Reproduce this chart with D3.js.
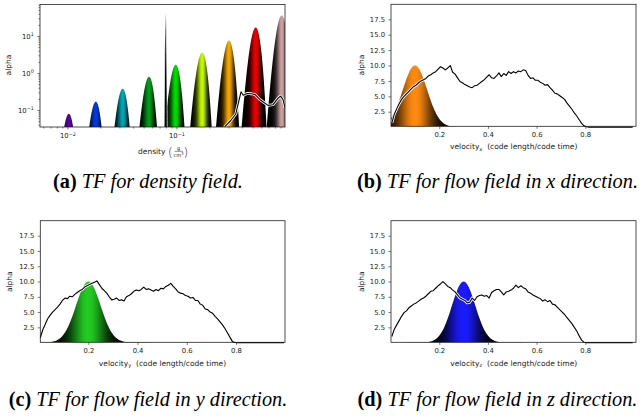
<!DOCTYPE html>
<html>
<head>
<meta charset="utf-8">
<script src="https://cdn.jsdelivr.net/npm/d3@7"></script>
<style>
  body { margin: 0; background: #fff; }
  svg text { font-family: "DejaVu Sans", sans-serif; white-space: pre; }
  .cap { font-family: "Liberation Serif", "Times New Roman", serif; }
</style>
</head>
<body>
<svg id="fig" width="642" height="417"></svg>
<script>
// ---- panel (a): density TF, gaussians on log axes ----
const densCenters = [0.0103, 0.0182, 0.0321, 0.056, 0.0984, 0.172, 0.303, 0.533, 0.924];
const densHeights = [0.079, 0.168, 0.377, 0.79, 1.68, 3.6, 7.6, 17.1, 36];
const densWidths  = [0.00075, 0.00133, 0.00234, 0.0041, 0.0072, 0.0126, 0.0221, 0.0389, 0.0675];
const densColors  = ["#5a009f", "#003bdd", "#00a6b6", "#009c1b", "#00dd00", "#c5fc00", "#f7a800", "#eb0000", "#cba0a0"];
const spikeCenter = 0.0797, spikeHeight = 37.6, spikeWidth = 0.0007;
const densHistX = [0.27, 0.279, 0.315, 0.35, 0.391, 0.41, 0.444, 0.49, 0.526, 0.584, 0.692, 0.769, 0.855, 0.901, 0.95, 0.99];
const densHistY = [0.025, 0.036, 0.052, 0.078, 0.31, 0.25, 0.28, 0.275, 0.26, 0.19, 0.133, 0.139, 0.21, 0.236, 0.19, 0.115];
const densXTicks = [0.01, 0.1];
const densYTicks = [0.1, 1, 10];

// ---- panels (b)-(d): velocity TFs ----
const velBins = d3.range(100).map(i => +(0.005 + i * 0.01).toFixed(3));
const velXHist = [0.7, 2.1, 3.0, 3.8, 4.5, 5.0, 5.4, 5.8, 6.2, 6.6,
  6.8, 7.2, 7.5, 7.7, 7.9, 8.3, 8.5, 8.8, 9.0, 9.4,
  9.8, 9.6, 9.3, 9.6, 10.0, 8.9, 8.6, 8.0, 7.4, 7.2,
  6.9, 6.7, 6.5, 6.4, 6.7, 6.8, 7.1, 7.4, 7.7, 8.1,
  8.5, 8.0, 7.9, 8.3, 8.8, 8.2, 8.7, 8.4, 9.0, 8.7,
  9.0, 8.8, 9.1, 9.0, 9.3, 9.2, 8.4, 7.9, 8.0, 7.6,
  7.6, 7.3, 7.1, 6.8, 6.9, 6.4, 6.0, 5.5, 5.4, 5.1,
  4.8, 4.5, 3.9, 3.4, 2.9, 2.3, 1.8, 1.2, 0.6, 0.2,
  0.05, 0, 0, 0, 0, 0, 0, 0, 0, 0,
  0, 0, 0, 0, 0, 0, 0, 0, 0, 0];
const velYHist = [0.8, 2.1, 3.0, 3.9, 4.5, 5.0, 5.4, 5.8, 6.3, 6.9,
  7.3, 7.2, 7.6, 7.5, 7.9, 8.2, 8.5, 8.7, 9.1, 9.3,
  9.5, 9.7, 9.9, 10.1, 9.5, 8.9, 8.5, 8.1, 7.5, 7.0,
  7.1, 7.3, 6.9, 7.0, 6.8, 7.5, 7.7, 8.0, 8.4, 8.6,
  8.5, 8.7, 9.1, 8.7, 8.8, 8.6, 8.4, 8.7, 8.5, 8.9,
  8.8, 9.2, 9.4, 9.7, 9.2, 8.8, 8.3, 8.1, 8.0, 7.7,
  7.6, 7.3, 7.4, 6.9, 6.9, 6.3, 6.1, 5.5, 5.4, 5.0,
  4.8, 4.3, 3.9, 3.4, 2.9, 2.3, 1.6, 0.9, 0.2, 0.02,
  0, 0, 0, 0, 0, 0, 0, 0, 0, 0,
  0, 0, 0, 0, 0, 0, 0, 0, 0, 0];
const velZHist = [1.0, 2.2, 2.9, 3.6, 4.3, 4.9, 5.2, 5.7, 6.0, 6.3,
  6.5, 6.8, 7.1, 7.3, 7.6, 8.0, 8.4, 8.5, 8.9, 9.3,
  9.6, 10.0, 9.6, 9.2, 9.0, 8.6, 8.3, 7.8, 7.3, 7.1,
  6.9, 6.5, 6.6, 7.3, 6.9, 7.5, 7.7, 7.8, 7.6, 7.7,
  7.3, 8.2, 8.5, 8.7, 8.7, 8.3, 7.8, 8.3, 8.4, 8.6,
  8.9, 9.4, 9.0, 9.3, 9.0, 8.8, 8.3, 8.1, 7.8, 7.6,
  7.4, 7.2, 6.8, 7.0, 6.7, 6.9, 6.3, 6.2, 5.8, 5.4,
  5.0, 4.6, 4.1, 3.6, 3.1, 2.5, 1.9, 1.1, 0.4, 0.05,
  0, 0, 0, 0, 0, 0, 0, 0, 0, 0,
  0, 0, 0, 0, 0, 0, 0, 0, 0, 0];
const velCenters = [0.1, 0.2, 0.3];
const velHeights = [10, 10, 10];
const velWidths  = [0.05, 0.05, 0.048];
const velColors  = ["#ff8a10", "#22cc22", "#1a1aff"];
const velXTicks = [0.2, 0.4, 0.6, 0.8];
const velYTicks = [2.5, 5, 7.5, 10, 12.5, 15, 17.5];

const svg = d3.select("#fig");
const defs = svg.append("defs");
let uid = 0;

function gauss(v, c, h, s) {
  return h * Math.exp(-((v - c) * (v - c)) / (2 * s * s));
}

// filled gaussian, shaded black at the edges and full colour at the peak
function shadedBump(g, x, y, c, h, s, color, floor) {
  const dom = x.domain();
  const x0 = Math.max(dom[0], c - 5 * s), x1 = Math.min(dom[1], c + 5 * s);
  const pts = d3.range(161).map(i => {
    const v = x0 + (x1 - x0) * i / 160;
    return { v: v, a: gauss(v, c, h, s) };
  });
  const id = "grad" + (uid++);
  const p0 = x(x0), p1 = x(x1);
  const grad = defs.append("linearGradient").attr("id", id)
    .attr("gradientUnits", "userSpaceOnUse")
    .attr("x1", p0).attr("x2", p1).attr("y1", 0).attr("y2", 0);
  const mix = d3.interpolateRgb("#000", color);
  pts.filter((p, i) => i % 4 === 0).forEach(p => {
    grad.append("stop")
      .attr("offset", (x(p.v) - p0) / (p1 - p0))
      .attr("stop-color", mix(p.a / h));
  });
  const area = d3.area()
    .x(p => x(p.v))
    .y0(y.range()[0] + 2)
    .y1(p => y(Math.max(p.a, floor)));
  return g.append("path").datum(pts).attr("d", area).attr("fill", `url(#${id})`);
}

function haloLine(g, x, y, xs, ys) {
  const line = d3.line().x((d, i) => x(xs[i])).y(d => y(d));
  g.append("path").datum(ys).attr("d", line)
    .attr("fill", "none").attr("stroke", "#fff").attr("stroke-width", 2.8)
    .attr("stroke-linejoin", "round");
  g.append("path").datum(ys).attr("d", line)
    .attr("fill", "none").attr("stroke", "#000").attr("stroke-width", 1.1)
    .attr("stroke-linejoin", "round");
}

function styleAxis(ag) {
  ag.select(".domain").remove();
  ag.selectAll(".tick line").attr("stroke", "#222").attr("stroke-width", 0.6);
  ag.selectAll(".tick text").attr("fill", "#222").attr("font-size", 6.8)
    .attr("font-family", "DejaVu Sans");
}

function clipFor(box) {
  const id = "clip" + (uid++);
  defs.append("clipPath").attr("id", id).append("rect")
    .attr("x", box.l).attr("y", box.t).attr("width", box.r - box.l).attr("height", box.b - box.t);
  return `url(#${id})`;
}

function spine(box) {
  svg.append("rect").attr("x", box.l).attr("y", box.t)
    .attr("width", box.r - box.l).attr("height", box.b - box.t)
    .attr("fill", "none").attr("stroke", "#222").attr("stroke-width", 0.8);
}

function alphaLabel(xc, yc) {
  svg.append("text").attr("transform", `translate(${xc},${yc}) rotate(-90)`)
    .attr("text-anchor", "middle").attr("font-size", 7.5).attr("fill", "#222").text("alpha");
}

function supLabels(ag) {
  ag.selectAll(".tick text").each(function (d) {
    const e = Math.round(Math.log10(d));
    const t = d3.select(this).text("10");
    t.append("tspan").attr("dy", "-0.45em").attr("font-size", "0.72em")
      .text(e < 0 ? "\u2212" + (-e) : String(e));
  });
}

// ---------- panel (a) ----------
(function () {
  const box = { l: 40, r: 285, t: 4.5, b: 127 };
  const x = d3.scaleLog().domain([0.0056, 0.99]).range([box.l, box.r]);
  const y = d3.scaleLog().domain([0.0347, 71]).range([box.b, box.t]);
  const g = svg.append("g").attr("clip-path", clipFor(box));

  densCenters.forEach((c, i) => {
    shadedBump(g, x, y, c, densHeights[i], densWidths[i], densColors[i], 0.005);
  });
  shadedBump(g, x, y, spikeCenter, spikeHeight, spikeWidth, "#000", 0.005)
    .attr("stroke", "#fff").attr("stroke-width", 0.7);
  haloLine(g, x, y, densHistX, densHistY);

  const xMinor = x.ticks().filter(v => densXTicks.indexOf(v) < 0 && v >= x.domain()[0] && v <= x.domain()[1]);
  const yMinor = y.ticks().filter(v => densYTicks.indexOf(v) < 0 && v >= y.domain()[0] && v <= y.domain()[1]);

  const xa = svg.append("g").attr("transform", `translate(0,${box.b})`)
    .call(d3.axisBottom(x).tickValues(densXTicks).tickSize(2.6).tickPadding(3.6));
  styleAxis(xa); supLabels(xa);
  const xm = svg.append("g").attr("transform", `translate(0,${box.b})`)
    .call(d3.axisBottom(x).tickValues(xMinor).tickSize(1.5).tickFormat(""));
  styleAxis(xm);
  const ya = svg.append("g").attr("transform", `translate(${box.l},0)`)
    .call(d3.axisLeft(y).tickValues(densYTicks).tickSize(2.6).tickPadding(3.6));
  styleAxis(ya); supLabels(ya);
  const ym = svg.append("g").attr("transform", `translate(${box.l},0)`)
    .call(d3.axisLeft(y).tickValues(yMinor).tickSize(1.5).tickFormat(""));
  styleAxis(ym);
  spine(box);

  alphaLabel(11, 65);
  // x label: density (g / cm^3)
  const lab = svg.append("g").attr("fill", "#222");
  lab.append("text").attr("x", 138).attr("y", 154).attr("font-size", 7.5).text("density");
  lab.append("text").attr("x", 168).attr("y", 156.5).attr("font-size", 12).attr("font-weight", 200).text("(");
  lab.append("text").attr("x", 178.5).attr("y", 149.6).attr("font-size", 5).attr("text-anchor", "middle").text("g");
  lab.append("line").attr("x1", 174.5).attr("x2", 183).attr("y1", 151.3).attr("y2", 151.3)
    .attr("stroke", "#222").attr("stroke-width", 0.5);
  const cm = lab.append("text").attr("x", 178.5).attr("y", 156.6).attr("font-size", 5).attr("text-anchor", "middle").text("cm");
  cm.append("tspan").attr("dy", -1.6).attr("font-size", 3.6).text("3");
  lab.append("text").attr("x", 183.6).attr("y", 156.5).attr("font-size", 12).attr("font-weight", 200).text(")");
})();

// ---------- panels (b), (c), (d) ----------
function velocityPanel(box, xDom, yDom, k, hist, sub, labelX, labelY, alphaX, alphaY) {
  const x = d3.scaleLinear().domain(xDom).range([box.l, box.r]);
  const y = d3.scaleLinear().domain(yDom).range([box.b, box.t]);
  const g = svg.append("g").attr("clip-path", clipFor(box));
  shadedBump(g, x, y, velCenters[k], velHeights[k], velWidths[k], velColors[k], -1);
  haloLine(svg, x, y, velBins, hist);

  const xa = svg.append("g").attr("transform", `translate(0,${box.b})`)
    .call(d3.axisBottom(x).tickValues(velXTicks).tickSize(2.6).tickPadding(3.6).tickFormat(d3.format(".1f")));
  styleAxis(xa);
  const ya = svg.append("g").attr("transform", `translate(${box.l},0)`)
    .call(d3.axisLeft(y).tickValues(velYTicks).tickSize(2.6).tickPadding(3.4).tickFormat(d3.format(".1f")));
  styleAxis(ya);
  spine(box);

  alphaLabel(alphaX, alphaY);
  const t = svg.append("text").attr("x", labelX).attr("y", labelY).attr("text-anchor", "middle")
    .attr("font-size", 7.5).attr("fill", "#222").text("velocity");
  t.append("tspan").attr("dy", 1.6).attr("font-size", 5.2).text(sub);
  t.append("tspan").attr("dy", -1.6).text("  (code length/code time)");
}

velocityPanel({ l: 391, r: 636, t: 4.3, b: 126.3 }, [0.0015, 1.0085], [0.13, 19.94], 0, velXHist, "x", 513.7, 149, 364.4, 65);
velocityPanel({ l: 40.3, r: 285, t: 220.7, b: 342.3 }, [0.005, 0.999], [0.05, 19.96], 1, velYHist, "y", 162.5, 365.6, 12, 281.7);
velocityPanel({ l: 391, r: 636, t: 220.7, b: 342.3 }, [0.0015, 1.0085], [0.05, 19.96], 2, velZHist, "z", 513.7, 365.6, 363.7, 281.7);

// ---------- captions ----------
const captions = [
  { tag: "(a)", text: " TF for density field.", x: 148, y: 188 },
  { tag: "(b)", text: " TF for flow field in x direction.", x: 497.5, y: 188 },
  { tag: "(c)", text: " TF for flow field in y direction.", x: 148, y: 405.5 },
  { tag: "(d)", text: " TF for flow field in z direction.", x: 497.5, y: 405.5 }
];
captions.forEach(c => {
  const t = svg.append("text").attr("class", "cap").attr("x", c.x).attr("y", c.y)
    .attr("text-anchor", "middle").attr("font-size", 20.3).attr("fill", "#000");
  t.append("tspan").attr("font-weight", "bold").text(c.tag);
  t.append("tspan").attr("font-style", "italic").text(c.text);
});
</script>
</body>
</html>
